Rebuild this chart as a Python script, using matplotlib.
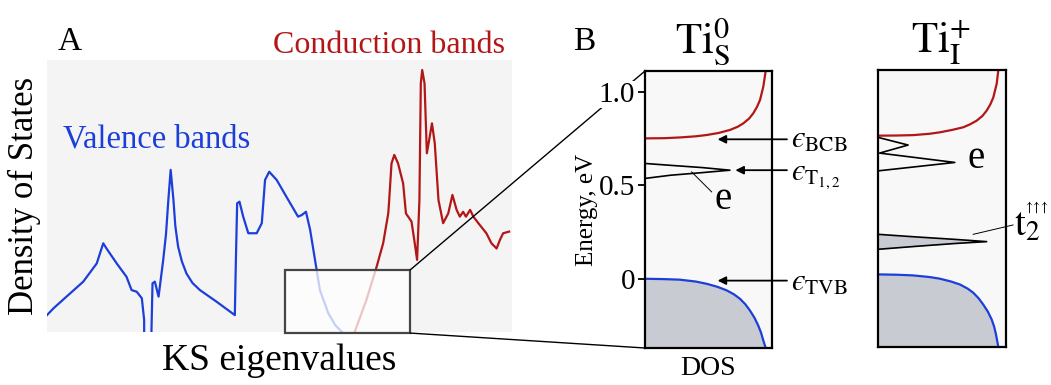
import matplotlib.pyplot as plt
from matplotlib.patches import Rectangle, ConnectionPatch

plt.rcParams['font.family'] = ['Liberation Serif', 'DejaVu Serif']
plt.rcParams['mathtext.fontset'] = 'stix'

# ---- panel A: DOS sketch (x = KS eigenvalue, y = DOS)
val_x = [0, 1.4, 4.2, 7.8, 10.7, 12.1, 12.8, 15.0, 17.1, 18.2, 19.3, 20.4, 20.9, 20.9]
val_y = [0.062, 0.087, 0.13, 0.185, 0.252, 0.326, 0.307, 0.252, 0.203, 0.154, 0.148, 0.124, 0.044, -0.05]
val2_x = [22.4, 22.7, 23.2, 24.0, 25.0, 25.6, 26.1, 26.6, 27.2, 27.6, 28.2, 29.0, 30.0, 31.3, 32.9, 36.5, 40.4,
          40.6, 40.9, 41.4, 42.2, 43.3, 45.1, 46.2, 46.9, 47.8, 49.4, 51.5, 54.0, 54.8,
          55.7, 56.6, 58.0, 58.7, 60.5, 62.0, 63.4]
val2_y = [-0.05, 0.179, 0.185, 0.13, 0.265, 0.36, 0.485, 0.596, 0.485, 0.39, 0.314, 0.26, 0.215, 0.18,
          0.154, 0.111, 0.062,
          0.24, 0.473, 0.479, 0.424, 0.363, 0.363, 0.40, 0.559, 0.589, 0.559, 0.497, 0.424, 0.43,
          0.442, 0.375, 0.228, 0.154, 0.069, 0.025, 0.001]
cond_x = [66.2, 68.7, 70.9, 72.3, 73.4, 73.6, 74.1, 74.7, 75.5, 76.6, 77.2, 78.4, 79.1, 79.6,
          80.1, 80.4, 80.7, 81.2, 81.7, 82.2, 82.8, 83.4, 84.2, 85.2, 86.3, 87.2, 88.1, 88.8,
          89.5, 90.1, 91.0, 91.7, 93.1, 94.5, 95.6, 96.7, 97.4, 98.1, 99.4]
cond_y = [0.001, 0.118, 0.24, 0.326, 0.436, 0.485, 0.62, 0.651, 0.62, 0.546, 0.436, 0.406, 0.326, 0.265,
          0.485, 0.914, 0.963, 0.914, 0.657, 0.706, 0.767, 0.694, 0.485, 0.40, 0.436, 0.504, 0.449, 0.424,
          0.442, 0.424, 0.449, 0.424, 0.393, 0.363, 0.326, 0.307, 0.338, 0.363, 0.369]

# ---- panel B: DOS (x) vs energy in eV (y)
s_cb_dos = [0, 0.15, 0.276, 0.4, 0.486, 0.58, 0.669, 0.73, 0.774, 0.82, 0.853, 0.882, 0.906, 0.932, 0.95]
s_cb_e = [0.75, 0.751, 0.755, 0.761, 0.768, 0.779, 0.795, 0.812, 0.83, 0.856, 0.884, 0.918, 0.955, 1.027, 1.107]
s_vb_dos = [0, 0.15, 0.276, 0.4, 0.486, 0.57, 0.643, 0.7, 0.748, 0.79, 0.827, 0.862, 0.892, 0.915, 0.932, 0.953]
s_vb_e = [0, -0.002, -0.005, -0.015, -0.027, -0.043, -0.062, -0.083, -0.107, -0.136, -0.17, -0.208,
          -0.25, -0.29, -0.33, -0.375]
s_def_dos = [0, 0.2, 0.45, 0.669, 0.45, 0.2, 0]
s_def_e = [0.616, 0.606, 0.594, 0.58, 0.567, 0.553, 0.536]

i_cb_dos = [0, 0.15, 0.274, 0.4, 0.483, 0.58, 0.666, 0.72, 0.77, 0.815, 0.849, 0.878, 0.901, 0.927, 0.94]
i_cb_e = [0.759, 0.76, 0.762, 0.769, 0.777, 0.79, 0.804, 0.82, 0.839, 0.864, 0.893, 0.927, 0.964, 1.036, 1.11]
i_vb_dos = [0, 0.15, 0.274, 0.4, 0.483, 0.57, 0.64, 0.7, 0.744, 0.785, 0.822, 0.858, 0.888, 0.908,
            0.922, 0.94]
i_vb_e = [0.018, 0.016, 0.0125, 0.004, -0.005, -0.02, -0.036, -0.058, -0.08, -0.109, -0.143, -0.181,
          -0.223, -0.263, -0.304, -0.37]
i_e_dos = [0, 0.235, 0.012, 0.6, 0]
i_e_e = [0.75, 0.709, 0.666, 0.616, 0.571]
i_t2_dos = [0, 0.3, 0.6, 0.849, 0.6, 0.3, 0]
i_t2_e = [0.232, 0.218, 0.205, 0.193, 0.183, 0.168, 0.152]

blue = '#1c3fd9'
red = '#b31616'
grey = '#c9cbd2'

fig = plt.figure(figsize=(10.51, 3.85), dpi=100)

axA = fig.add_axes([0.0447, 0.1377, 0.4424, 0.7065])
axA.set_facecolor('#f4f4f4')
for s in axA.spines.values():
    s.set_visible(False)
axA.set_xticks([])
axA.set_yticks([])
axA.set_xlim(0, 100)
axA.set_ylim(0, 1)
axA.plot(val_x, val_y, color=blue, lw=1.6)
axA.plot(val2_x, val2_y, color=blue, lw=1.6)
axA.plot(cond_x, cond_y, color=red, lw=1.6)
box = Rectangle((51.2, -0.004), 26.9, 0.232, facecolor='white', alpha=0.75,
                edgecolor='none', zorder=3, clip_on=False)
axA.add_patch(box)
axA.add_patch(Rectangle((51.2, -0.004), 26.9, 0.232, facecolor='none',
                        edgecolor='#454545', lw=1.6, zorder=4, clip_on=False))
axA.set_ylabel('Density of States', fontsize=25, labelpad=4)
axA.set_xlabel('KS eigenvalues', fontsize=27, labelpad=8)

axB1 = fig.add_axes([0.6137, 0.0961, 0.1208, 0.7195])
axB2 = fig.add_axes([0.8354, 0.0987, 0.1218, 0.7195])
for ax in (axB1, axB2):
    ax.set_facecolor('#f8f8f8')
    ax.set_xlim(0, 1)
    ax.set_ylim(-0.37, 1.11)
    ax.set_xticks([])
    for s in ax.spines.values():
        s.set_linewidth(1.6)

axB1.set_yticks([0, 0.5, 1.0])
axB1.set_yticklabels(['0', '0.5', '1.0'])
axB1.tick_params(axis='y', direction='out', length=5, width=1.3, labelsize=21, pad=2)
for lab in axB1.get_yticklabels():
    lab.set_bbox(dict(facecolor='white', edgecolor='none', pad=0.5))
axB2.set_yticks([])
axB1.set_ylabel('Energy, eV', fontsize=18, labelpad=1)
axB1.set_xlabel('DOS', fontsize=20, labelpad=6)

# Ti_S^0
axB1.fill_betweenx(s_vb_e, 0, s_vb_dos, color=grey, lw=0)
axB1.fill_betweenx([-0.375, -0.4], 0, [0.953, 0.96], color=grey, lw=0)
axB1.plot(s_vb_dos, s_vb_e, color=blue, lw=1.6)
axB1.plot(s_cb_dos, s_cb_e, color=red, lw=1.6)
axB1.plot(s_def_dos, s_def_e, color='black', lw=1.2)
axB1.plot([0.525, 0.367], [0.464, 0.571], color='black', lw=0.7)
axB1.text(0.551, 0.375, 'e', fontsize=28)

arrow = dict(arrowstyle='-|>', color='black', lw=1.3, mutation_scale=12)
for head, e in [(0.55, 0.745), (0.69, 0.58), (0.55, -0.01)]:
    axB1.annotate('', xy=(head, e), xytext=(1.14, e), arrowprops=arrow,
                  annotation_clip=False)
axB1.text(1.147, 0.70, r'$ϵ_{\mathrm{BCB}}$', fontsize=22, clip_on=False)
axB1.text(1.147, 0.527, r'$ϵ_{\mathrm{T_{1,2}}}$', fontsize=22, clip_on=False)
axB1.text(1.147, -0.0625, r'$ϵ_{\mathrm{TVB}}$', fontsize=22, clip_on=False)

# Ti_I^+
axB2.fill_betweenx(i_vb_e, 0, i_vb_dos, color=grey, lw=0)
axB2.fill_betweenx(i_t2_e, 0, i_t2_dos, color=grey, lw=0)
axB2.plot(i_vb_dos, i_vb_e, color=blue, lw=1.6)
axB2.plot(i_cb_dos, i_cb_e, color=red, lw=1.6)
axB2.plot(i_e_dos, i_e_e, color='black', lw=1.2)
axB2.plot(i_t2_dos, i_t2_e, color='black', lw=1.2)
axB2.text(0.697, 0.589, 'e', fontsize=28)
axB2.plot([0.744, 1.055], [0.232, 0.282], color='black', lw=0.7, clip_on=False)
axB2.text(1.06, 0.225, r'$\mathrm{t}_2$', fontsize=28, clip_on=False)
axB2.text(1.135, 0.355, r'$\uparrow\!\!\uparrow\!\!\uparrow$', fontsize=10, clip_on=False)

# zoom lines from box in A to panel B
for ya, yb in [(0.228, 1), (-0.004, 0)]:
    con = ConnectionPatch(xyA=(78.1, ya), coordsA=axA.transData,
                          xyB=(0, yb), coordsB=axB1.transAxes,
                          color='black', lw=1.0, zorder=1)
    fig.add_artist(con)
axB1.set_zorder(5)

fig.text(0.055, 0.870, 'A', fontsize=24)
fig.text(0.545, 0.870, 'B', fontsize=24)
fig.text(0.26, 0.862, 'Conduction bands', fontsize=23, color=red)
fig.text(0.06, 0.618, 'Valence bands', fontsize=23.5, color=blue)
fig.text(0.669, 0.862, r'$\mathrm{Ti}_{\mathrm{S}}^{0}$', fontsize=31, ha='center')
fig.text(0.895, 0.862, r'$\mathrm{Ti}_{\mathrm{I}}^{+}$', fontsize=31, ha='center')

fig.savefig('out.png', dpi=100)
